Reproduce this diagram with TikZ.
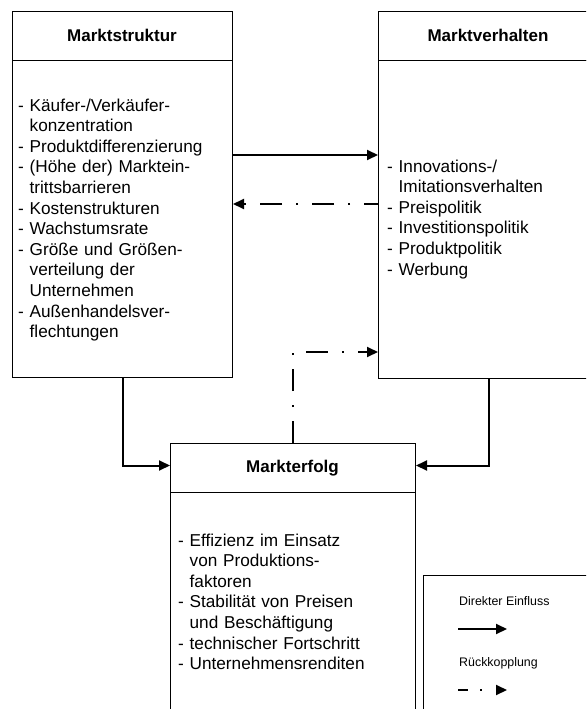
\documentclass[tikz,border=0pt]{standalone}
\usepackage{fontspec}
\setmainfont{Liberation Sans}
\usetikzlibrary{arrows.meta}
\begin{document}
\begin{tikzpicture}[x=1pt,y=-1pt,
  box/.style={draw, line width=1pt, inner sep=0pt, anchor=north west},
  title/.style={font=\bfseries\fontsize{17}{20}\selectfont, anchor=base, inner sep=0pt},
  items/.style={font=\fontsize{17.2}{20.6}\selectfont, text width=215pt, align=left, anchor=base west, inner sep=0pt},
  legtext/.style={font=\fontsize{12.4}{15}\selectfont, anchor=base west, inner sep=0pt},
  tip/.style={-{Triangle[length=11pt,width=10pt]}},
  direct/.style={line width=2pt, line join=miter, tip},
  feedback/.style={line width=2pt, dash pattern=on 22pt off 14pt on 2pt off 14pt, tip},
  legfeedback/.style={line width=2pt, dash pattern=on 10pt off 12pt on 2pt off 30pt, tip},
]
\useasboundingbox (0,0) rectangle (586,709);
\clip (0,0) rectangle (586,709);

% Marktstruktur
\node[box, minimum width=220pt, minimum height=49pt] (sh) at (12,11) {};
\node[box, minimum width=220pt, minimum height=317pt] (sb) at (12,60) {};
\node[title] (ts) at (122,41.5) {Marktstruktur};
\node[items] (is) at (18,111) {- Käufer-/Verkäufer-\\
\hphantom{- }konzentration\\
- Produktdifferenzierung\\
- (Höhe der) Marktein-\\
\hphantom{- }trittsbarrieren\\
- Kostenstrukturen\\
- Wachstumsrate\\
- Größe und Größen-\\
\hphantom{- }verteilung der\\
\hphantom{- }Unternehmen\\
- Außenhandelsver-\\
\hphantom{- }flechtungen};

% Marktverhalten
\node[box, minimum width=220pt, minimum height=49pt] (vh) at (378,11) {};
\node[box, minimum width=220pt, minimum height=318pt] (vb) at (378,60) {};
\node[title] (tv) at (488,41.5) {Marktverhalten};
\node[items] (iv) at (387,172) {- Innovations-/\\
\hphantom{- }Imitationsverhalten\\
- Preispolitik\\
- Investitionspolitik\\
- Produktpolitik\\
- Werbung};

% Markterfolg
\node[box, minimum width=245pt, minimum height=49pt] (eh) at (170,443) {};
\node[box, minimum width=245pt, minimum height=280pt] (eb) at (170,492) {};
\node[title] (te) at (292.5,472) {Markterfolg};
\node[items] (ie) at (178,546) {- Effizienz im Einsatz\\
\hphantom{- }von Produktions-\\
\hphantom{- }faktoren\\
- Stabilität von Preisen\\
\hphantom{- }und Beschäftigung\\
- technischer Fortschritt\\
- Unternehmensrenditen};

% Legende
\node[box, minimum width=200pt, minimum height=200pt] (lg) at (423,575) {};
\node[legtext] (ld) at (459,605) {Direkter Einfluss};
\node[legtext] (lr) at (459,666) {Rückkopplung};
\coordinate (d1) at (458,629);
\coordinate (d2) at (507,629);
\coordinate (r1) at (458,690);
\coordinate (r2) at (507,690);
\draw[direct] (d1) -- (d2);
\draw[legfeedback] (r1) -- (r2);

% Verbindungen
\coordinate (sbend) at (sb.south |- eh.west);
\coordinate (vbend) at (vb.south |- eh.east);
\draw[direct] ([yshift=-95pt]sb.north east) -- ([yshift=-95pt]vb.north west);
\draw[feedback, dash phase=8pt] ([yshift=-144pt]vb.north west) -- ([yshift=-144pt]sb.north east);
\draw[direct] (sb.south) -- ([yshift=2.5pt]sbend) -- ([yshift=2.5pt]eh.west);
\draw[direct] (vb.south) -- ([yshift=2.5pt]vbend) -- ([yshift=2.5pt]eh.east);
\draw[feedback] (eh.north) |- ([yshift=27pt]vb.south west);
\end{tikzpicture}
\end{document}
